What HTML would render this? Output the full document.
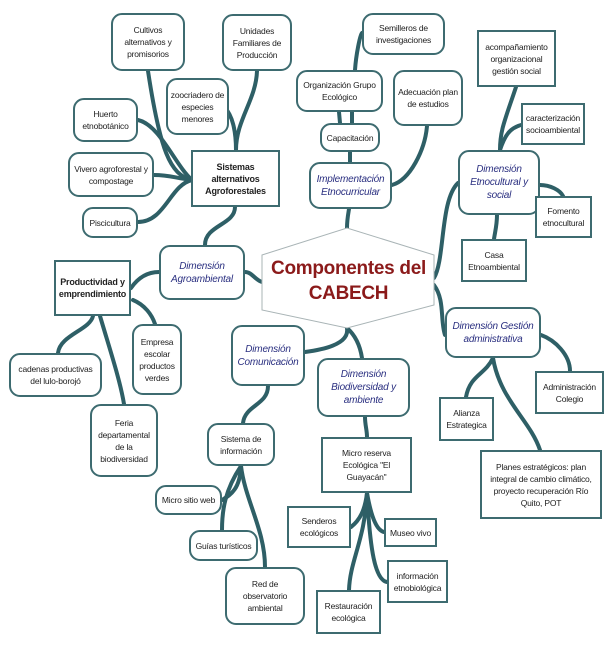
<!DOCTYPE html>
<html><head><meta charset="utf-8"><style>
body{margin:0;width:614px;height:649px;background:#fff;position:relative;overflow:hidden;font-family:"Liberation Sans",sans-serif;}
.b{position:absolute;box-sizing:border-box;border:2px solid #3d6b70;background:#fff;display:flex;align-items:center;justify-content:center;text-align:center;font-size:8.5px;line-height:12px;color:#222;letter-spacing:-0.2px;padding:0 2px;}
.r{border-radius:11px;}
.d{font-style:italic;color:#2a2f80;font-size:10px;line-height:13px;}
.k{font-weight:bold;font-size:9px;}
svg{position:absolute;left:0;top:0;}
</style></head><body>
<svg width="614" height="649" fill="none" stroke="#2e5f66" stroke-width="4" stroke-linecap="round">
<path d="M192 180 C170 175 160 150 148 71"/>
<path d="M192 180 C175 165 160 125 138 120"/>
<path d="M192 180 C175 178 170 175 154 175"/>
<path d="M192 180 C170 185 165 222 138 222"/>
<path d="M236 150 C236 120 256 100 257 71"/>
<path d="M236 150 C236 130 232 115 225 108"/>
<path d="M235 207 C235 225 205 225 205 245"/>
<path d="M159 272 C150 272 140 275 131 288"/>
<path d="M245 272 C252 272 255 280 262 282"/>
<path d="M93 316 C90 330 60 335 58 353"/>
<path d="M100 316 C110 350 120 380 124 404"/>
<path d="M133 300 C145 305 152 315 155 324"/>
<path d="M347 228 C347 220 348 215 349 209"/>
<path d="M350 162 L350 152"/>
<path d="M340 123 L339 112"/>
<path d="M352 123 L352 112"/>
<path d="M355 70 C356 55 360 35 362 33"/>
<path d="M392 185 C410 180 425 150 427 126"/>
<path d="M434 278 C445 260 440 200 458 183"/>
<path d="M434 285 C445 300 440 320 445 335"/>
<path d="M500 150 C500 130 505 120 516 87"/>
<path d="M500 150 C505 135 510 128 521 125"/>
<path d="M540 185 C550 185 560 190 563 196"/>
<path d="M497 215 C497 225 495 232 494 239"/>
<path d="M541 335 C555 340 570 355 570 371"/>
<path d="M493 358 C485 375 470 375 466 397"/>
<path d="M493 358 C500 400 530 420 540 450"/>
<path d="M347 328 C350 345 320 350 305 352"/>
<path d="M347 328 C355 335 360 345 362 358"/>
<path d="M268 386 C268 405 245 405 243 423"/>
<path d="M365 417 C365 425 367 430 367 437"/>
<path d="M367 493 C365 510 360 520 351 527"/>
<path d="M367 493 C370 510 375 530 384 532"/>
<path d="M367 493 C370 550 375 580 387 582"/>
<path d="M367 493 C365 540 350 560 349 590"/>
<path d="M241 466 C240 490 230 495 222 500"/>
<path d="M241 466 C225 490 222 510 222 530"/>
<path d="M241 466 C245 500 265 530 265 567"/>
<polygon points="262,255 347,228 434,255 434,305 347,328 262,310" stroke="#a9b4b6" stroke-width="1" fill="#fff"/>
</svg>
<div style="position:absolute;left:252px;top:256px;width:193px;text-align:center;color:#8b1a1a;font-weight:bold;font-size:19px;line-height:25px;white-space:nowrap;letter-spacing:-0.3px">Componentes del<br>CABECH</div>
<div class="b r" style="left:111px;top:13px;width:74px;height:58px">Cultivos alternativos y promisorios</div>
<div class="b r" style="left:222px;top:14px;width:70px;height:57px">Unidades Familiares de Producción</div>
<div class="b r" style="left:166px;top:78px;width:63px;height:57px">zoocriadero de especies menores</div>
<div class="b r" style="left:73px;top:98px;width:65px;height:44px">Huerto etnobotánico</div>
<div class="b r" style="left:68px;top:152px;width:86px;height:45px">Vivero agroforestal y compostage</div>
<div class="b r" style="left:82px;top:207px;width:56px;height:31px">Piscicultura</div>
<div class="b k" style="left:191px;top:150px;width:89px;height:57px">Sistemas alternativos Agroforestales</div>
<div class="b r d" style="left:159px;top:245px;width:86px;height:55px">Dimensión Agroambiental</div>
<div class="b k" style="left:54px;top:260px;width:77px;height:56px">Productividad y emprendimiento</div>
<div class="b r" style="left:362px;top:13px;width:83px;height:42px">Semilleros de investigaciones</div>
<div class="b r" style="left:296px;top:70px;width:87px;height:42px">Organización Grupo Ecológico</div>
<div class="b r" style="left:393px;top:70px;width:70px;height:56px">Adecuación plan de estudios</div>
<div class="b r" style="left:320px;top:123px;width:60px;height:29px">Capacitación</div>
<div class="b r d" style="left:309px;top:162px;width:83px;height:47px">Implementación Etnocurricular</div>
<div class="b" style="left:477px;top:30px;width:79px;height:57px">acompañamiento organizacional gestión social</div>
<div class="b" style="left:521px;top:103px;width:64px;height:42px">caracterización socioambiental</div>
<div class="b r d" style="left:458px;top:150px;width:82px;height:65px">Dimensión Etnocultural y social</div>
<div class="b" style="left:535px;top:196px;width:57px;height:42px">Fomento etnocultural</div>
<div class="b" style="left:461px;top:239px;width:66px;height:43px">Casa Etnoambiental</div>
<div class="b r d" style="left:445px;top:307px;width:96px;height:51px">Dimensión Gestión administrativa</div>
<div class="b" style="left:535px;top:371px;width:69px;height:43px">Administración Colegio</div>
<div class="b" style="left:439px;top:397px;width:55px;height:44px">Alianza Estrategica</div>
<div class="b" style="left:480px;top:450px;width:122px;height:69px;padding:0 4px">Planes estratégicos: plan integral de cambio climático, proyecto recuperación Río Quito, POT</div>
<div class="b r d" style="left:231px;top:325px;width:74px;height:61px">Dimensión Comunicación</div>
<div class="b r d" style="left:317px;top:358px;width:93px;height:59px">Dimensión Biodiversidad y ambiente</div>
<div class="b" style="left:321px;top:437px;width:91px;height:56px;padding:0 8px">Micro reserva Ecológica "El Guayacán"</div>
<div class="b" style="left:287px;top:506px;width:64px;height:42px">Senderos ecológicos</div>
<div class="b" style="left:384px;top:518px;width:53px;height:29px">Museo vivo</div>
<div class="b" style="left:387px;top:560px;width:61px;height:43px">información etnobiológica</div>
<div class="b" style="left:316px;top:590px;width:65px;height:44px">Restauración ecológica</div>
<div class="b r" style="left:207px;top:423px;width:68px;height:43px">Sistema de información</div>
<div class="b r" style="left:155px;top:485px;width:67px;height:30px">Micro sitio web</div>
<div class="b r" style="left:189px;top:530px;width:69px;height:31px">Guías turísticos</div>
<div class="b r" style="left:225px;top:567px;width:80px;height:58px">Red de observatorio ambiental</div>
<div class="b r" style="left:9px;top:353px;width:93px;height:44px">cadenas productivas del lulo-borojó</div>
<div class="b r" style="left:132px;top:324px;width:50px;height:71px">Empresa escolar productos verdes</div>
<div class="b r" style="left:90px;top:404px;width:68px;height:73px">Feria departamental de la biodiversidad</div>
</body></html>
